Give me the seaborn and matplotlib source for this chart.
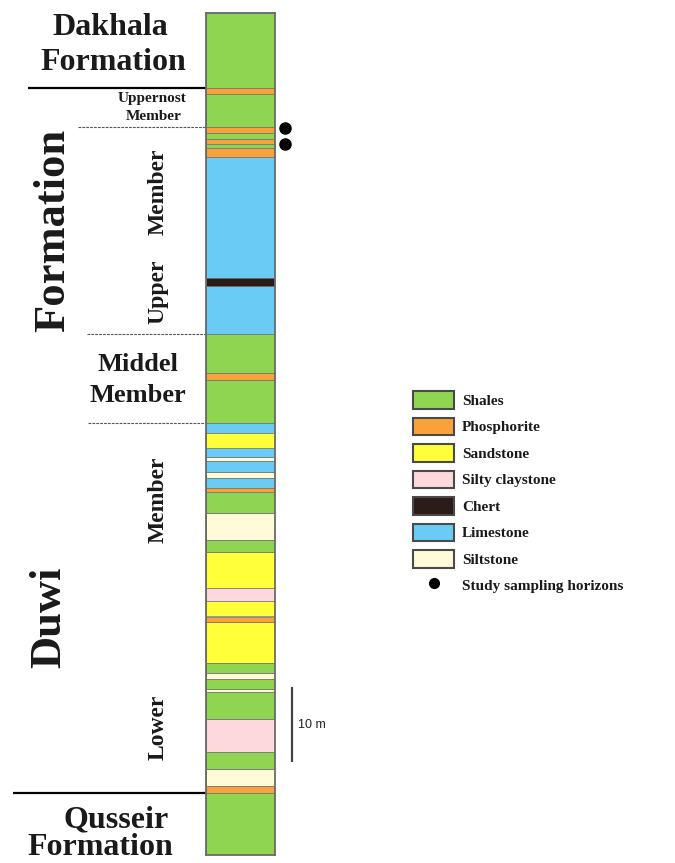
import numpy as np
import pandas as pd
import matplotlib
matplotlib.use("Agg")
import matplotlib.pyplot as plt
from matplotlib.patches import Patch
from matplotlib.lines import Line2D
import seaborn as sns

# Lithological succession of the section, listed from base to top
lithology = [
    "Shales", "Phosphorite", "Siltstone", "Shales", "Silty claystone",
    "Shales", "Siltstone", "Shales", "Siltstone", "Shales",
    "Sandstone", "Phosphorite", "Sandstone", "Silty claystone", "Sandstone",
    "Shales", "Siltstone", "Shales", "Phosphorite", "Limestone",
    "Siltstone", "Limestone", "Siltstone", "Limestone", "Sandstone",
    "Limestone", "Shales", "Phosphorite", "Shales", "Limestone",
    "Chert", "Limestone", "Phosphorite", "Shales", "Phosphorite",
    "Shales", "Phosphorite", "Shales", "Phosphorite", "Shales",
]
# Bed thickness in metres (same order)
thickness_m = [
    8.3, 0.9, 2.3, 2.3, 4.3,
    3.6, 0.5, 1.3, 0.8, 1.3,
    5.5, 0.7, 2.1, 1.7, 4.8,
    1.6, 3.6, 2.8, 0.5, 1.3,
    0.8, 1.5, 0.5, 1.3, 2.0,
    1.3, 5.7, 0.9, 5.2, 6.4,
    1.1, 16.1, 1.3, 0.5, 0.7,
    0.8, 0.7, 4.4, 0.8, 10.0,
]

legend_order = ["Shales", "Phosphorite", "Sandstone", "Silty claystone",
                "Chert", "Limestone", "Siltstone"]
lith_colors = {
    "Shales": "#8fd552",
    "Phosphorite": "#f9a23b",
    "Sandstone": "#ffff3a",
    "Silty claystone": "#fdd9dd",
    "Chert": "#2b1b19",
    "Limestone": "#6accf4",
    "Siltstone": "#fffbd9",
}

# Unit boundaries (metres above base of section)
qusseir_top = 8.3
lower_member_top = 57.6
middle_member_top = 69.4
upper_member_top = 97.0
duwi_top = 102.2

# Sampling horizons and scale bar (metres)
sample_heights = [96.9, 94.8]
scale_bar_base = 12.4
scale_bar_length = 10

# ---------------------------------------------------------------------------
sns.set_style("white")
plt.rcParams["font.family"] = ["Liberation Serif", "DejaVu Serif"]

W, H = 675, 863
PX_PER_M = 7.5          # vertical scale of the log
BASE_PX = 855           # pixel row of the section base
COL_X0, COL_X1 = 206, 275

df = pd.DataFrame({"lithology": lithology, "thickness": thickness_m})
df["top"] = df["thickness"].cumsum()
df["base"] = df["top"] - df["thickness"]
df["mid"] = (df["top"] + df["base"]) / 2
df["width"] = 1.0
edges = [0.0] + df["top"].tolist()
total = edges[-1]

fig = plt.figure(figsize=(W / 100, H / 100), dpi=100)

# Metre-scaled background axis (x in pixels, y in metres)
ax = fig.add_axes([0, 0, 1, 1])
ax.set_xlim(0, W)
ax.set_ylim(-(H - BASE_PX) / PX_PER_M, BASE_PX / PX_PER_M)
ax.axis("off")

# Lithological column
col_ax = fig.add_axes([COL_X0 / W, (H - BASE_PX) / H,
                       (COL_X1 - COL_X0) / W, total * PX_PER_M / H])
sns.histplot(data=df, y="mid", weights="width", bins=edges,
             hue="lithology", hue_order=legend_order, palette=lith_colors,
             multiple="layer", alpha=1, edgecolor="#707070", linewidth=0.5,
             legend=False, ax=col_ax)
col_ax.set_xlim(0, 1)
col_ax.set_ylim(0, total)
col_ax.set(xticks=[], yticks=[], xlabel="", ylabel="")
for s in col_ax.spines.values():
    s.set_color("#6a6a6a")
    s.set_linewidth(1.3)

# Formation boundaries (solid) and member boundaries (dashed)
ax.hlines([duwi_top], 28, COL_X0, colors="black", linewidth=1.6)
ax.hlines([qusseir_top], 13, COL_X0, colors="black", linewidth=1.6)
ax.hlines([upper_member_top], 78, COL_X0, colors="#555555",
          linewidth=0.8, linestyles=(0, (2.5, 1)))
ax.hlines([middle_member_top], 87, COL_X0, colors="#555555",
          linewidth=0.8, linestyles=(0, (2.5, 1)))
ax.hlines([lower_member_top], 88, COL_X0, colors="#555555",
          linewidth=0.8, linestyles=(0, (2.5, 1)))

# Sampling horizons
ax.plot([285] * len(sample_heights), sample_heights, "o", color="black",
        markersize=8, linestyle="None")

# Scale bar
ax.vlines(292, scale_bar_base, scale_bar_base + scale_bar_length,
          colors="#444444", linewidth=1.6)
ax.text(298, scale_bar_base + scale_bar_length / 2, f"{scale_bar_length} m",
        fontsize=9, family=["Liberation Sans", "DejaVu Sans"],
        va="center", ha="left", color="#222222")

# Pixel-scaled overlay for the unit names
ann = fig.add_axes([0, 0, 1, 1])
ann.set_xlim(0, W)
ann.set_ylim(H, 0)
ann.axis("off")
ann.patch.set_alpha(0)

tc = "#1a1a1a"
big = dict(fontsize=23, fontweight="bold", color=tc, ha="center", va="baseline")
ann.text(110, 35, "Dakhala", **big)
ann.text(113, 70, "Formation", **big)
ann.text(116, 827, "Qusseir", **big)
ann.text(100, 855, "Formation", **big)

small = dict(fontsize=11, fontweight="bold", color=tc, ha="center", va="baseline")
ann.text(152, 102, "Uppernost", **small)
ann.text(154, 120, "Member", **small)

mid = dict(fontsize=19, fontweight="bold", color=tc, ha="center", va="baseline")
ann.text(138, 371, "Middel", **mid)
ann.text(138, 402, "Member", **mid)

rot = dict(fontsize=17, fontweight="bold", color=tc, ha="center",
           va="center", rotation=90)
ann.text(158, 192, "Member", **rot)
ann.text(158, 292, "Upper", **rot)
ann.text(158, 500, "Member", **rot)
ann.text(158, 727, "Lower", **rot)

huge = dict(fontsize=32, fontweight="bold", color=tc, ha="center",
            va="center", rotation=90)
ann.text(53, 230, "Formation", **huge)
ann.text(49, 617, "Duwi", **huge)

# Legend
handles = [Patch(facecolor=lith_colors[k], edgecolor="#4a4a4a", linewidth=1.5)
           for k in legend_order]
handles.append(Line2D([], [], marker="o", color="black", linestyle="None",
                      markersize=7))
labels = legend_order + ["Study sampling horizons"]
leg = fig.legend(handles, labels, loc="upper left",
                 bbox_to_anchor=(413 / W, 1 - 391 / H), frameon=False,
                 prop=dict(family="Liberation Serif", weight="bold", size=11),
                 handlelength=2.7, handleheight=1.4, handletextpad=0.5,
                 labelspacing=0.58, borderpad=0, borderaxespad=0)
for t in leg.get_texts():
    t.set_color(tc)

fig.savefig("out.png", dpi=100)
